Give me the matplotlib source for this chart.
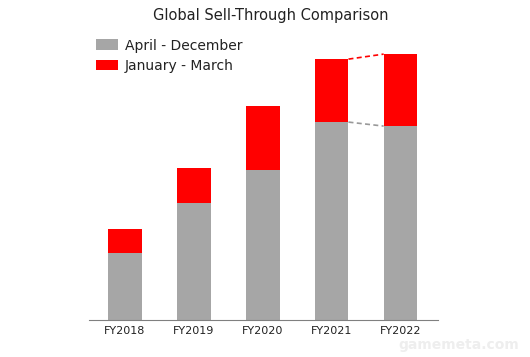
import numpy as np
import matplotlib.pyplot as plt

years = ["FY2018", "FY2019", "FY2020", "FY2021", "FY2022"]
apr_dec = [6.7, 11.7, 15.0, 19.8, 19.4]
jan_mar = [2.4, 3.5, 6.4, 6.3, 7.2]

gray = "#a6a6a6"
red = "#ff0000"

fig = plt.figure(figsize=(5.30, 3.57), dpi=100)
ax = fig.add_axes([0.168, 0.1036, 0.658, 0.812])

x = np.arange(len(years))
w = 0.49
b1 = ax.bar(x, apr_dec, w, color=gray, label="April - December")
tot = np.array(apr_dec) + np.array(jan_mar)
b2 = ax.bar(x, jan_mar, w, bottom=apr_dec, color=red, label="January - March")

# dashed connectors between the last two years
ax.plot([x[3] + w / 2, x[4] - w / 2], [tot[3], tot[4]], "--", color=red,
        lw=1.2, dashes=(3, 2))
ax.plot([x[3] + w / 2, x[4] - w / 2], [apr_dec[3], apr_dec[4]], "--",
        color="#999999", lw=1.2, dashes=(3, 2))

ax.set_xlim(-0.517, 4.54)
ax.set_ylim(0, 29)
ax.set_xticks(x)
ax.set_xticklabels(years, fontsize=8, color="#222222")
ax.tick_params(axis="x", length=0, pad=4)
ax.set_yticks([])
for s in ["top", "right", "left"]:
    ax.spines[s].set_visible(False)
ax.spines["bottom"].set_color("#808080")

fig.text(0.51, 0.957, "Global Sell-Through Comparison", ha="center", va="center",
         fontsize=10.5, color="#222222")
fig.legend(handles=[b1, b2], loc="upper left", bbox_to_anchor=(0.157, 0.927),
           frameon=False, fontsize=10, handlelength=1.6, handleheight=0.8,
           handletextpad=0.5, labelspacing=0.45, labelcolor="#222222")

fig.text(0.865, 0.035, "gamemeta.com", ha="center", va="center", fontsize=10,
         fontweight="bold", color="#eeeeee")

fig.savefig("out.png", dpi=100)
